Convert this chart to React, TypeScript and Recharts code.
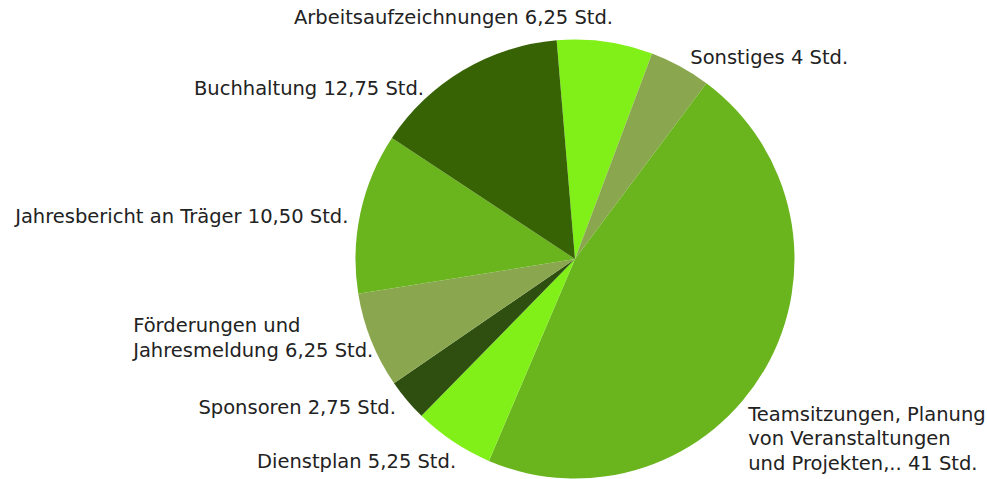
import React from 'react';
import { PieChart, Pie, Cell } from 'recharts';

// slices in clockwise order, starting just left of 12 o'clock
const categories = [
  'Arbeitsaufzeichnungen',
  'Sonstiges',
  'Teamsitzungen, Planung von Veranstaltungen und Projekten,..',
  'Dienstplan',
  'Sponsoren',
  'Förderungen und Jahresmeldung',
  'Jahresbericht an Träger',
  'Buchhaltung',
];
const hours = [6.25, 4, 41, 5.25, 2.75, 6.25, 10.5, 12.75];
const hourLabels = ['6,25', '4', '41', '5,25', '2,75', '6,25', '10,50', '12,75'];

// how each label is broken into lines
const labelLines = [
  ['Arbeitsaufzeichnungen 6,25 Std.'],
  ['Sonstiges 4 Std.'],
  ['Teamsitzungen, Planung', 'von Veranstaltungen', 'und Projekten,.. 41 Std.'],
  ['Dienstplan 5,25 Std.'],
  ['Sponsoren 2,75 Std.'],
  ['Förderungen und', 'Jahresmeldung 6,25 Std.'],
  ['Jahresbericht an Träger 10,50 Std.'],
  ['Buchhaltung 12,75 Std.'],
];

const colors = ['#80F018', '#8AA74F', '#6AB41E', '#80F018', '#2E4F10', '#8AA74F', '#6AB41E', '#376305'];

// label placement relative to the slice's mid point on the rim
const labelPlacement = [
  { anchor: 'end', dx: 8, dy: -18 },
  { anchor: 'start', dx: 10, dy: -2 },
  { anchor: 'start', dx: -17, dy: 52 },
  { anchor: 'end', dx: 3, dy: 26 },
  { anchor: 'end', dx: -11, dy: 14 },
  { anchor: 'start', dx: -238, dy: -8 },
  { anchor: 'end', dx: -12, dy: 10 },
  { anchor: 'end', dx: -39, dy: 25 },
];

const data = categories.map((name, i) => ({ name, value: hours[i], label: hourLabels[i] }));

const RADIAN = Math.PI / 180;
const LINE_HEIGHT = 24.5;

const renderLabel = (props: any) => {
  const { cx, cy, midAngle, outerRadius, index } = props;
  const px = cx + outerRadius * Math.cos(-midAngle * RADIAN);
  const py = cy + outerRadius * Math.sin(-midAngle * RADIAN);
  const p = labelPlacement[index];
  const x = px + p.dx;
  const y = py + p.dy;
  return (
    <text
      key={`label-${index}`}
      x={x}
      y={y}
      textAnchor={p.anchor}
      fill="#222"
      fontSize={19.5}
      fontFamily="DejaVu Sans, Verdana, sans-serif"
    >
      {labelLines[index].map((line, j) => (
        <tspan key={j} x={x} y={y + j * LINE_HEIGHT}>
          {line}
        </tspan>
      ))}
    </text>
  );
};

export default function App() {
  return (
    <div style={{ width: 987, height: 479, background: '#fff' }}>
      <style>{`body { margin: 0; }`}</style>
      <PieChart width={987} height={479} margin={{ top: 0, right: 0, bottom: 0, left: 0 }}>
        <Pie
          data={data}
          dataKey="value"
          nameKey="name"
          cx={575}
          cy={259}
          outerRadius={219.5}
          startAngle={94.8}
          endAngle={-265.2}
          stroke="none"
          label={renderLabel}
          labelLine={false}
          isAnimationActive={false}
        >
          {data.map((d, i) => (
            <Cell key={d.name} fill={colors[i]} />
          ))}
        </Pie>
      </PieChart>
    </div>
  );
}
